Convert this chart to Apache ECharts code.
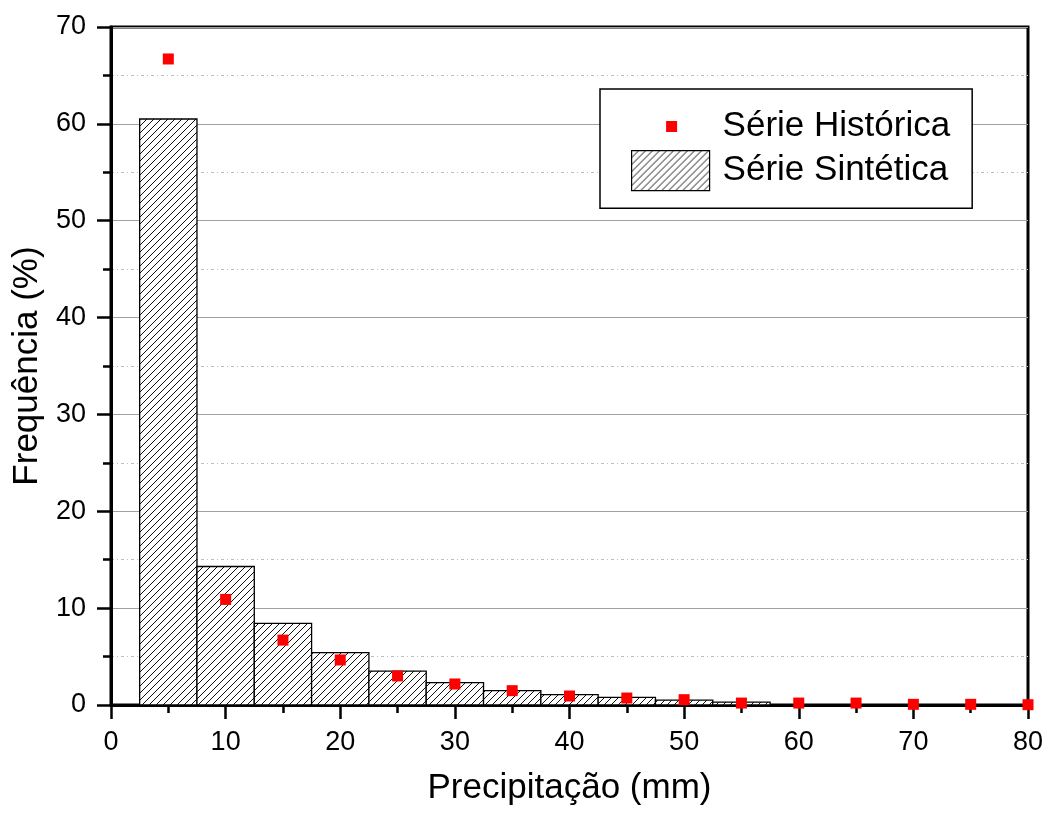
<!DOCTYPE html>
<html>
<head>
<meta charset="utf-8">
<script src="https://cdn.jsdelivr.net/npm/echarts@6/dist/echarts.min.js"></script>
<style>
html,body{margin:0;padding:0;background:#fff;}
#chart{width:1048px;height:814px;}
</style>
</head>
<body>
<div id="chart"></div>
<script>
// ---- data ----
var binWidth = 5;
var binCenters = [5, 10, 15, 20, 25, 30, 35, 40, 45, 50, 55];
var sinteticaValues = [60.5, 14.3, 8.43, 5.4, 3.5, 2.3, 1.48, 1.07, 0.79, 0.5, 0.3];
var historicaX = [5, 10, 15, 20, 25, 30, 35, 40, 45, 50, 55, 60, 65, 70, 75, 80];
var historicaValues = [66.7, 10.9, 6.7, 4.65, 3.0, 2.17, 1.48, 0.93, 0.72, 0.55, 0.2, 0.2, 0.2, 0.07, 0.07, 0.03];
var seriesNames = ['Série Histórica', 'Série Sintética'];
var xTitle = 'Precipitação (mm)';
var yTitle = 'Frequência (%)';

// ---- hatch pattern ----
var pc = document.createElement('canvas');
pc.width = 7; pc.height = 7;
var pctx = pc.getContext('2d');
pctx.fillStyle = '#fff';
pctx.fillRect(0, 0, 7, 7);
pctx.fillStyle = '#111';
for (var i = 0; i < 7; i++) {
  for (var j = 0; j < 7; j++) {
    if ((i + j) % 7 === 6) pctx.fillRect(i, j, 1, 1);
  }
}
var hatch = { image: pc, repeat: 'repeat' };

var barData = binCenters.map(function (c, k) { return [c, sinteticaValues[k]]; });
var pointData = historicaX.map(function (c, k) { return [c, historicaValues[k]]; });

var FONT = '"Liberation Sans", Arial, sans-serif';

var chart = echarts.init(document.getElementById('chart'), null, { renderer: 'canvas' });
chart.setOption({
  backgroundColor: '#fff',
  animation: false,
  grid: {
    left: 111, right: 20, top: 27, bottom: 109,
    show: true, borderColor: '#000', borderWidth: 3, backgroundColor: 'transparent'
  },
  legend: {
    orient: 'vertical',
    left: 600, top: 89,
    padding: [17, 22, 17, 31],
    itemWidth: 78, itemHeight: 40, itemGap: 4,
    borderColor: '#000', borderWidth: 1.5,
    backgroundColor: '#fff',
    textStyle: { fontFamily: FONT, fontSize: 35, color: '#000', padding: [0, 0, 0, 8] },
    data: [
      { name: seriesNames[0], icon: 'path://M0,0M78,40M34.5,15h11v11h-11z', itemStyle: { color: '#ff0000' } },
      { name: seriesNames[1], icon: 'rect', itemStyle: { color: hatch, borderColor: '#000', borderWidth: 1.2 } }
    ]
  },
  xAxis: {
    type: 'value', min: 0, max: 80, interval: 10,
    name: xTitle, nameLocation: 'middle', nameGap: 66,
    nameTextStyle: { fontFamily: FONT, fontSize: 35, color: '#000' },
    axisLine: { show: true, onZero: false, lineStyle: { color: '#000', width: 3 } },
    axisTick: { show: true, inside: false, length: 14, lineStyle: { color: '#000', width: 2.5 } },
    minorTick: { show: true, splitNumber: 2, length: 8, lineStyle: { color: '#000', width: 2.5 } },
    axisLabel: { margin: 24, fontFamily: FONT, fontSize: 27, color: '#000' },
    splitLine: { show: false },
    minorSplitLine: { show: false }
  },
  yAxis: {
    type: 'value', min: 0, max: 70, interval: 10,
    name: yTitle, nameLocation: 'middle', nameGap: 66, nameRotate: 90,
    nameTextStyle: { fontFamily: FONT, fontSize: 35, color: '#000' },
    axisLine: { show: true, onZero: false, lineStyle: { color: '#000', width: 3 } },
    axisTick: { show: true, inside: false, length: 14, lineStyle: { color: '#000', width: 2.5 } },
    minorTick: { show: true, splitNumber: 2, length: 8, lineStyle: { color: '#000', width: 2.5 } },
    axisLabel: { margin: 25, fontFamily: FONT, fontSize: 27, color: '#000' },
    splitLine: { show: true, lineStyle: { color: '#a0a0a0', width: 1.2 } },
    minorSplitLine: { show: true, lineStyle: { color: '#bdbdbd', width: 1.2, type: [3, 3, 1, 3] } }
  },
  series: [
    {
      name: seriesNames[1],
      type: 'custom',
      z: 2,
      itemStyle: { color: hatch, borderColor: '#000', borderWidth: 1.2 },
      encode: { x: 0, y: 1 },
      data: barData,
      renderItem: function (params, api) {
        var c = api.value(0), v = api.value(1);
        var p1 = api.coord([c - binWidth / 2, v]);
        var p2 = api.coord([c + binWidth / 2, 0]);
        return {
          type: 'rect',
          shape: { x: p1[0], y: p1[1], width: p2[0] - p1[0], height: p2[1] - p1[1] },
          style: { fill: hatch, stroke: '#000', lineWidth: 1.3 }
        };
      }
    },
    {
      name: seriesNames[0],
      type: 'scatter',
      z: 3,
      symbol: 'rect',
      symbolSize: 11,
      itemStyle: { color: '#ff0000', opacity: 1 },
      data: pointData
    }
  ]
});
</script>
</body>
</html>
